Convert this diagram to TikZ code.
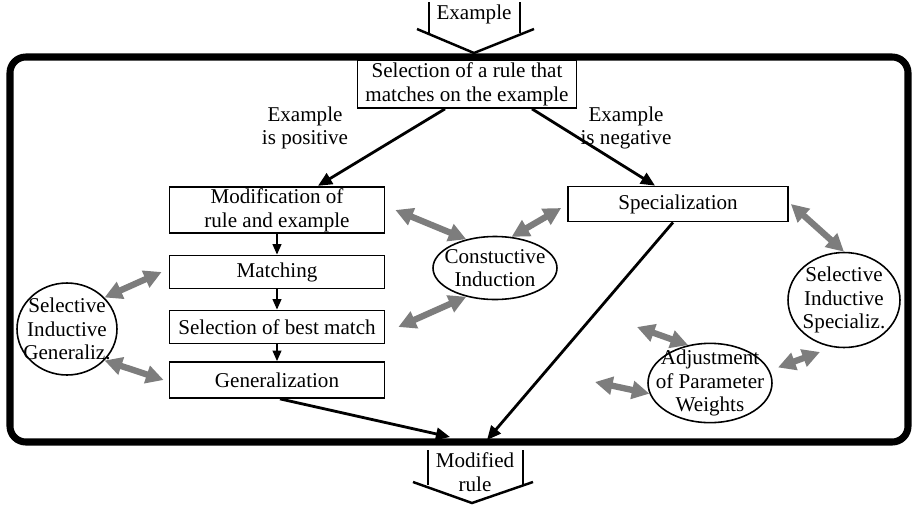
\documentclass[tikz,border=0pt]{standalone}
\usepackage{fontspec}
\setmainfont{Liberation Serif}
\usetikzlibrary{arrows.meta,shapes.geometric}
\definecolor{inkgray}{RGB}{125,125,125}

\begin{document}
\begin{tikzpicture}[x=0.02cm, y=-0.02cm,
  font=\fontsize{12}{13.5}\selectfont,
  stepbox/.style={draw, line width=1pt, minimum width=4.3cm, inner sep=1pt, align=center},
  oval/.style={draw, ellipse, line width=0.9pt, inner xsep=-7pt, inner ysep=-3pt, align=center},
  flow/.style={-{Triangle[length=8pt,width=7pt]}, line width=1.6pt},
  down/.style={-{Triangle[length=6pt,width=5pt]}, line width=1pt},
  link/.style={{Triangle[length=10pt,width=10pt]}-{Triangle[length=10pt,width=10pt]}, line width=3.6pt, inkgray}]

\useasboundingbox (0,0) rectangle (913,504);

% Frame
\draw[line width=4pt, rounded corners=9pt] (10,57) rectangle (908,442);

% Input: Example
\node (inp) at (474,14) {Example};
\coordinate (inL) at (429,2);
\coordinate (inR) at (520,2);
\coordinate (inTip) at (474,53);
\draw[line width=0.9pt] (inL) -- ++(0,31);
\draw[line width=0.9pt] (inR) -- ++(0,31);
\draw[line width=1.4pt] (417,29) -- (inTip) -- (534,29);

% Output: Modified rule
\node[align=center] (outp) at (475,472) {Modified\\rule};
\coordinate (outTip) at (472,503);
\draw[line width=0.9pt] (428,450) -- ++(0,35);
\draw[line width=0.9pt] (523,450) -- ++(0,35);
\draw[line width=1.4pt] (413,482) -- (outTip) -- (533,482);

% Boxes
\node[stepbox, minimum width=4.38cm, minimum height=0.96cm] (sel) at (467,84) {Selection of a rule that\\matches on the example};
\node[stepbox, minimum height=0.9cm] (modif) at (277,210) {Modification of\\rule and example};
\node[stepbox, minimum height=0.66cm] (match) at (277,272) {Matching};
\node[stepbox, minimum height=0.66cm] (best) at (277,327) {Selection of best match};
\node[stepbox, minimum height=0.72cm] (gen) at (277,380) {Generalization};
\node[stepbox, minimum width=4.4cm, minimum height=0.7cm] (spec) at (678,204) {Specialization};

% Ellipses
\node[oval, minimum width=2cm, minimum height=1.84cm] (sig) at (67,329) {Selective\\Inductive\\Generaliz.};
\node[oval, minimum width=2.48cm, minimum height=1.26cm] (ci) at (495,268) {Constuctive\\Induction};
\node[oval, minimum width=2.24cm, minimum height=1.9cm] (sis) at (844,300) {Selective\\Inductive\\Specializ.};
\node[oval, minimum width=2.48cm, minimum height=1.46cm] (adj) at (710,383) {Adjustment\\of Parameter\\Weights};

% Branch labels
\node[align=center] (pos) at (305,128) {Example\\is positive};
\node[align=center] (neg) at (626,128) {Example\\is negative};

% Flow
\coordinate (outA) at (450,437);
\coordinate (outB) at (487,440);
\draw[flow] ([xshift=-0.44cm]sel.south) -- ([xshift=0.82cm]modif.north);
\draw[flow] ([xshift=1.3cm]sel.south) -- ([xshift=-0.46cm]spec.north);
\foreach \a/\b in {modif/match, match/best, best/gen}
  \draw[down] (\a) -- (\b);
\draw[flow] ([xshift=0.06cm]gen.south) -- (outA);
\draw[flow] ([xshift=-0.1cm]spec.south) -- (outB);

% Gray links
\coordinate (adjUL) at (637,327);
\coordinate (adjL) at (595,382);
\coordinate (adjR) at (820,352);
\draw[link] (sig.40) -- ([xshift=-0.14cm]match.west);
\draw[link] (sig.-40) -- ([xshift=-0.1cm]gen.west);
\draw[link] (ci.135) -- ([xshift=0.2cm]modif.east);
\draw[link] (ci.-135) -- ([xshift=0.26cm]best.east);
\draw[link] (ci.62) -- ([shift={(-6,4)}]spec.west);
\draw[link] ([xshift=0.04cm]spec.east) -- (sis.north);
\draw[link] (adj.120) -- (adjUL);
\draw[link] (adj.190) -- (adjL);
\draw[link] ([xshift=0.2cm]adj.15) -- (adjR);

\end{tikzpicture}
\end{document}
